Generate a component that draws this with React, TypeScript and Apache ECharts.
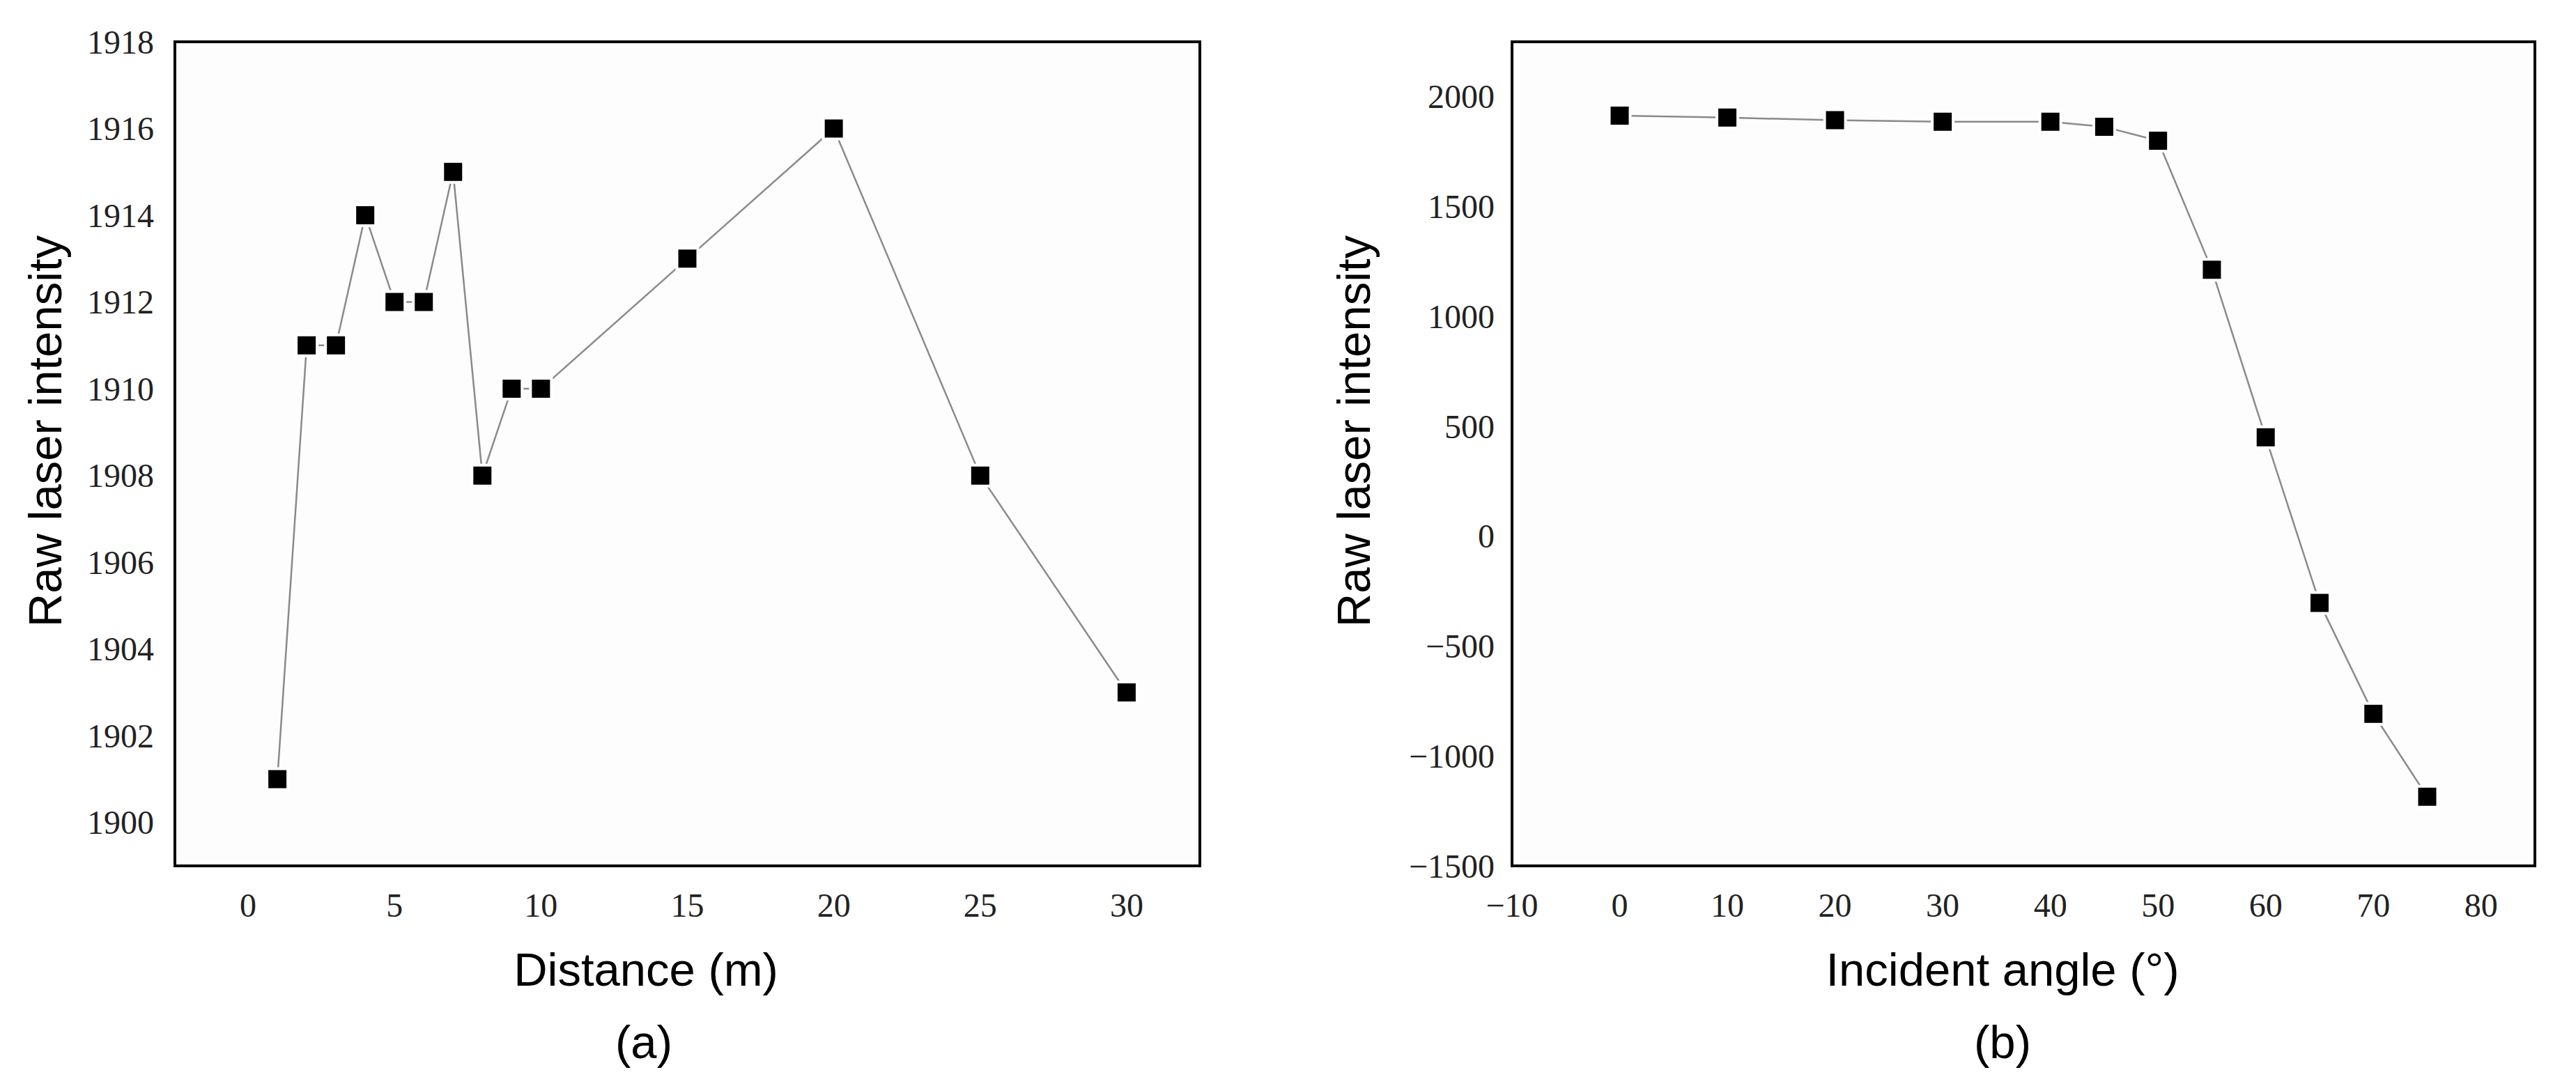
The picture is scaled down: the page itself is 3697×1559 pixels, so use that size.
import React, { useEffect, useRef } from "react";
import * as echarts from "echarts";

const distanceX = [1, 2, 3, 4, 5, 6, 7, 8, 9, 10, 15, 20, 25, 30];
const distanceY = [1901, 1911, 1911, 1914, 1912, 1912, 1915, 1908, 1910, 1910, 1913, 1916, 1908, 1903];

const angleX = [0, 10, 20, 30, 40, 45, 50, 55, 60, 65, 70, 75];
const angleY = [1914, 1905, 1893, 1886, 1886, 1863, 1800, 1213, 450, -303, -808, -1185];

const leftYTicks = [1900, 1902, 1904, 1906, 1908, 1910, 1912, 1914, 1916, 1918];
const leftXTicks = [0, 5, 10, 15, 20, 25, 30];
const rightYTicks = [-1500, -1000, -500, 0, 500, 1000, 1500, 2000];
const rightXTicks = [-10, 0, 10, 20, 30, 40, 50, 60, 70, 80];

const fmt = (ticks: number[]) => (v: number) => {
  const hit = ticks.find((t) => Math.abs(t - v) < 1e-6);
  if (hit === undefined) return "";
  return hit < 0 ? "\u2212" + Math.abs(hit) : String(hit);
};

const serif = "'Liberation Serif', 'DejaVu Serif', serif";
const sans = "'Liberation Sans', Arial, sans-serif";

export default function App() {
  const ref = useRef<HTMLDivElement>(null);
  useEffect(() => {
    document.body.style.margin = "0";
    if (!ref.current) return;
    const chart = echarts.init(ref.current, null, { renderer: "svg" });
    const labelStyle = { fontFamily: serif, fontSize: 48, color: "#222" };
    const makeX = (idx: number, min: number, max: number, interval: number, ticks: number[]) => ({
      type: "value",
      gridIndex: idx,
      min,
      max,
      interval,
      axisLine: { show: false },
      axisTick: { show: false },
      splitLine: { show: false },
      axisLabel: { ...labelStyle, margin: 32, formatter: fmt(ticks), showMinLabel: true, showMaxLabel: true },
    });
    const makeY = (idx: number, min: number, max: number, interval: number, ticks: number[], margin: number) => ({
      type: "value",
      gridIndex: idx,
      min,
      max,
      interval,
      axisLine: { show: false },
      axisTick: { show: false },
      splitLine: { show: false },
      axisLabel: { ...labelStyle, margin, formatter: fmt(ticks), showMinLabel: true, showMaxLabel: true },
    });
    const series = (idx: number, xs: number[], ys: number[]) => ({
      type: "line",
      xAxisIndex: idx,
      yAxisIndex: idx,
      data: xs.map((x, i) => [x, ys[i]]),
      symbol: "rect",
      symbolSize: 30,
      lineStyle: { color: "#8a8a8a", width: 2.5 },
      itemStyle: { color: "#000", borderColor: "#fff", borderWidth: 4 },
      z: 3,
    });
    const titleText = (text: string, x: number, y: number, rotate = 0) => ({
      type: "text",
      x,
      y,
      rotation: rotate,
      style: {
        text,
        fontFamily: sans,
        fontSize: 67,
        fill: "#000",
        textAlign: "center",
        textVerticalAlign: "middle",
      },
    });
    chart.setOption({
      animation: false,
      backgroundColor: "#fff",
      grid: [
        { left: 251, top: 60, width: 1471, height: 1183, show: true, borderColor: "#000", borderWidth: 4, backgroundColor: "#fdfdfd" },
        { left: 2170, top: 60, width: 1468, height: 1183, show: true, borderColor: "#000", borderWidth: 4, backgroundColor: "#fdfdfd" },
      ],
      xAxis: [
        makeX(0, -2.5, 32.5, 2.5, leftXTicks),
        makeX(1, -10, 85, 5, rightXTicks),
      ],
      yAxis: [
        makeY(0, 1899, 1918, 1, leftYTicks, 30),
        makeY(1, -1500, 2250, 250, rightYTicks, 25),
      ],
      series: [series(0, distanceX, distanceY), series(1, angleX, angleY)],
      graphic: [
        titleText("Raw laser intensity", 64, 619, Math.PI / 2),
        titleText("Raw laser intensity", 1942, 619, Math.PI / 2),
        titleText("Distance (m)", 927, 1391),
        titleText("Incident angle (\u00b0)", 2874, 1391),
        titleText("(a)", 924, 1495),
        titleText("(b)", 2874, 1495),
      ],
    });
    return () => chart.dispose();
  }, []);
  return <div ref={ref} style={{ width: 3697, height: 1559 }} />;
}
